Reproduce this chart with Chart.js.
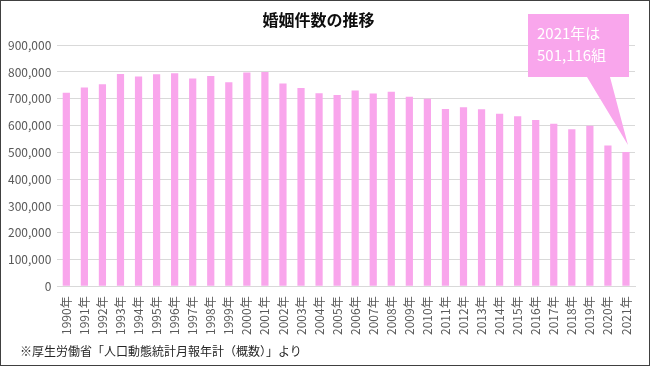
<!DOCTYPE html>
<html lang="ja">
<head>
    <meta charset="UTF-8">
    <title>婚姻件数の推移</title>
    <style>
        html, body { margin: 0; padding: 0; background: #fff; }
        .frame {
            position: relative;
            width: 650px;
            height: 366px;
            box-sizing: border-box;
            border: 1px solid #404040;
            overflow: hidden;
        }
        .frame canvas { display: block; }
        .note {
            position: absolute;
            left: 19px;
            top: 341px;
            font: 12px "Noto Sans CJK JP", sans-serif;
            color: #262626;
            white-space: nowrap;
        }
    </style>
</head>
<body>
    <div class="frame">
        <canvas id="myChart" width="648" height="364"></canvas>
        <div class="note">※厚生労働省「人口動態統計月報年計（概数）」より</div>
    </div>
    <script src="https://cdn.jsdelivr.net/npm/chart.js@4/dist/chart.umd.min.js"></script>
    <script>
        // 婚姻件数（組）
        var years = ["1990年", "1991年", "1992年", "1993年", "1994年", "1995年", "1996年", "1997年",
                     "1998年", "1999年", "2000年", "2001年", "2002年", "2003年", "2004年", "2005年",
                     "2006年", "2007年", "2008年", "2009年", "2010年", "2011年", "2012年", "2013年",
                     "2014年", "2015年", "2016年", "2017年", "2018年", "2019年", "2020年", "2021年"];
        var marriages = [722138, 742264, 754441, 792658, 782738, 791888, 795080, 775651,
                         784595, 762028, 798138, 799999, 757331, 740191, 720417, 714265,
                         730971, 719822, 726106, 707734, 700214, 661895, 668869, 660613,
                         643749, 635156, 620531, 606866, 586481, 599007, 525507, 501116];
        var calloutLines = ["2021年は", "501,116組"];

        var pink = "#F9A6EC";
        var fontFamily = '"Noto Sans CJK JP", "Noto Sans", sans-serif';

        // 吹き出し（最後の棒を指す）
        var callout = {
            id: "callout",
            afterDraw: function (chart) {
                var ctx = chart.ctx;
                var area = chart.chartArea;
                var meta = chart.getDatasetMeta(0);
                var last = meta.data[meta.data.length - 1];
                var left = area.right - 107, right = area.right - 6;
                var top = 13, bottom = 76;
                var tipX = last.x + 2, tipY = last.y - 7;

                ctx.save();
                ctx.fillStyle = pink;
                ctx.beginPath();
                ctx.moveTo(left, top);
                ctx.lineTo(right, top);
                ctx.lineTo(right, bottom);
                ctx.lineTo(right - 19, bottom);
                ctx.lineTo(tipX, tipY);
                ctx.lineTo(right - 42, bottom);
                ctx.lineTo(left, bottom);
                ctx.closePath();
                ctx.fill();

                ctx.fillStyle = "#ffffff";
                ctx.font = "15px " + fontFamily;
                ctx.textBaseline = "middle";
                ctx.fillText(calloutLines[0], left + 9, top + 19);
                ctx.fillText(calloutLines[1], left + 9, top + 41);
                ctx.restore();
            }
        };

        var ctx = document.getElementById("myChart").getContext("2d");
        var myChart = new Chart(ctx, {
            type: "bar",
            data: {
                labels: years,
                datasets: [{
                    data: marriages,
                    backgroundColor: pink,
                    barPercentage: 0.4,
                    categoryPercentage: 1.0
                }]
            },
            options: {
                responsive: false,
                animation: false,
                layout: { padding: { left: 1, right: 14, top: 9, bottom: 28 } },
                plugins: {
                    legend: { display: false },
                    tooltip: { enabled: false },
                    title: {
                        display: true,
                        text: "婚姻件数の推移",
                        color: "#0d0d0d",
                        font: { family: fontFamily, size: 16, weight: "bold" },
                        padding: { top: 0, bottom: 16 }
                    }
                },
                scales: {
                    x: {
                        grid: { display: false },
                        border: { display: true, color: "#d9d9d9" },
                        ticks: {
                            maxRotation: 90,
                            minRotation: 90,
                            autoSkip: false,
                            padding: 2,
                            color: "#595959",
                            font: { family: fontFamily, size: 12 }
                        }
                    },
                    y: {
                        min: 0,
                        max: 900000,
                        border: { display: false },
                        grid: { color: "#d9d9d9", drawTicks: false },
                        ticks: {
                            stepSize: 100000,
                            padding: 6,
                            color: "#595959",
                            font: { family: fontFamily, size: 12 },
                            callback: function (v) { return v.toLocaleString("en-US"); }
                        }
                    }
                }
            },
            plugins: [callout]
        });
    </script>
</body>
</html>
